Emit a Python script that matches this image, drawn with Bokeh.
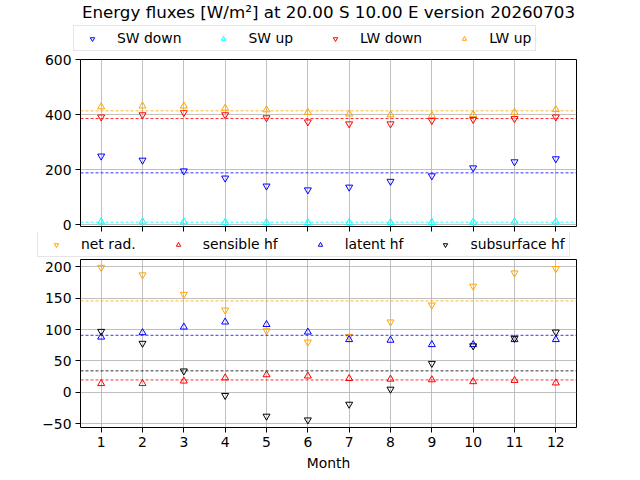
from bokeh.plotting import figure
from bokeh.layouts import column
from bokeh.models import Span, Legend, LegendItem, Label, FixedTicker, Range1d
from bokeh.embed import file_html
from bokeh.resources import INLINE

months = list(range(1, 13))
sw_down = [249, 234, 195, 169, 140, 126, 136, 157, 177, 206, 228, 239]
sw_up = [10, 10, 10, 8, 7, 7, 7, 7, 8, 9, 10, 10]
lw_down = [391, 399, 407, 399, 388, 373, 366, 366, 378, 382, 385, 391]
lw_up = [428, 431, 431, 423, 417, 408, 402, 399, 396, 400, 408, 418]
net_rad = [199, 187, 156, 131, 98, 80, 89, 112, 139, 169, 190, 197]
sensible = [14, 14, 18, 23, 28, 26, 22, 21, 20, 17, 19, 15]
latent = [88, 95, 104, 112, 108, 96, 84, 83, 76, 76, 84, 84]
subsurface = [97, 78, 34, -5, -38, -44, -19, 5, 46, 74, 86, 96]
top_ticks = [0, 200, 400, 600]
bottom_ticks = [-50, 0, 50, 100, 150, 200]
title_text = "Energy fluxes [W/m²] at 20.00 S 10.00 E version 20260703"

FONT = "DejaVu Sans"
TICK_FS = "13.9px"

top_series = [
    ("SW down", sw_down, "blue", "inverted_triangle"),
    ("SW up", sw_up, "cyan", "triangle"),
    ("LW down", lw_down, "red", "inverted_triangle"),
    ("LW up", lw_up, "orange", "triangle"),
]
bottom_series = [
    ("net rad.", net_rad, "orange", "inverted_triangle"),
    ("sensible hf", sensible, "red", "triangle"),
    ("latent hf", latent, "blue", "triangle"),
    ("subsurface hf", subsurface, "black", "inverted_triangle"),
]


def mean(v):
    return sum(v) / len(v)


def style(p, yticks, show_xlabels):
    p.outline_line_color = "black"
    p.outline_line_width = 1
    p.background_fill_color = "white"
    p.border_fill_color = "white"
    p.xaxis.ticker = FixedTicker(ticks=months)
    p.yaxis.ticker = FixedTicker(ticks=yticks)
    for ax in (p.xaxis[0], p.yaxis[0]):
        ax.axis_line_color = None
        ax.minor_tick_line_color = None
        ax.major_tick_in = 0
        ax.major_tick_out = 5
        ax.major_tick_line_color = "black"
        ax.major_tick_line_width = 1
        ax.major_label_text_font = FONT
        ax.major_label_text_font_size = TICK_FS
        ax.major_label_text_color = "black"
        ax.major_label_standoff = 4
    if not show_xlabels:
        p.xaxis.major_label_text_font_size = "0px"
        p.xaxis.major_label_text_color = None
        p.xaxis.major_label_standoff = 0
    for g in (p.xgrid[0], p.ygrid[0]):
        g.grid_line_color = "#b0b0b0"
        g.grid_line_width = 0.8


def strip_figure(h):
    # full-width strip holding title / legend; data ranges keep its proxy markers out of view
    f = figure(width=640, height=h, output_backend="svg", toolbar_location=None,
               x_range=Range1d(0, 640), y_range=Range1d(1000, 1000 + h),
               x_axis_location=None, y_axis_location=None, min_border=0,
               frame_align=False)
    f.outline_line_color = None
    f.grid.visible = False
    f.background_fill_color = "white"
    f.border_fill_color = "white"
    return f


def make_legend(fig, series, loc):
    items = []
    for name, vals, col, mk in series:
        r = fig.scatter(months, vals, marker=mk, size=7, fill_color=None, line_color=col, line_width=1)
        items.append(LegendItem(label=name, renderers=[r]))
    lg = Legend(items=items, location=loc, orientation="horizontal")
    lg.label_text_font = FONT
    lg.label_text_font_size = TICK_FS
    lg.label_text_color = "black"
    lg.glyph_width = 28
    lg.glyph_height = 11
    lg.label_height = 14
    lg.label_standoff = 11
    lg.spacing = 28
    lg.padding = 4
    lg.margin = 0
    lg.border_line_color = "#cccccc"
    lg.border_line_width = 1
    lg.background_fill_color = "white"
    lg.background_fill_alpha = 0.8
    fig.add_layout(lg)


def draw_series(p, series):
    for name, vals, col, mk in series:
        p.scatter(months, vals, marker=mk, size=7, fill_color=None, line_color=col, line_width=1)
        p.add_layout(Span(location=mean(vals), dimension="width", line_color=col,
                          line_dash="3 2", line_width=0.8))


# ---------- header: title + top legend ----------
hdr = strip_figure(52)
hdr.add_layout(Label(x=328, y=1041, text=title_text, text_align="center", text_baseline="middle",
                     text_font=FONT, text_font_size="16.7px", text_color="black"))
make_legend(hdr, top_series, (73, 1))

# ---------- top panel ----------
p1 = figure(frame_width=496, frame_height=167, output_backend="svg", toolbar_location=None,
            x_range=Range1d(0.5, 12.5), y_range=Range1d(-7, 600),
            min_border_left=80, min_border_right=64, min_border_top=7, min_border_bottom=6)
style(p1, top_ticks, False)
draw_series(p1, top_series)

# ---------- middle strip: bottom legend ----------
mid = strip_figure(27)
make_legend(mid, bottom_series, (37, 2))

# ---------- bottom panel ----------
p2 = figure(frame_width=496, frame_height=168, output_backend="svg", toolbar_location=None,
            x_range=Range1d(0.5, 12.5), y_range=Range1d(-56, 211.5),
            min_border_left=80, min_border_right=64, min_border_top=0, min_border_bottom=53)
style(p2, bottom_ticks, True)
p2.yaxis.major_label_overrides = {-50: "\u221250"}
p2.xaxis.axis_label = "Month"
p2.xaxis.axis_label_text_font = FONT
p2.xaxis.axis_label_text_font_size = TICK_FS
p2.xaxis.axis_label_text_font_style = "normal"
p2.xaxis.axis_label_text_color = "black"
p2.xaxis.axis_label_standoff = 5
draw_series(p2, bottom_series)

layout = column(hdr, p1, mid, p2, spacing=0)
open("out.html", "w").write(file_html(layout, INLINE))
